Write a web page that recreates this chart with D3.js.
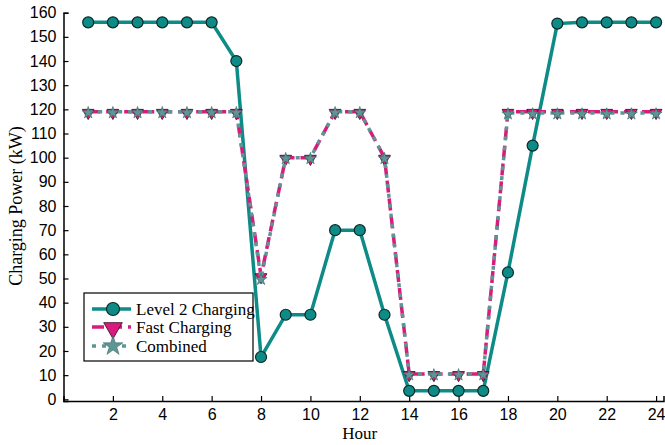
<!DOCTYPE html>
<html><head><meta charset="utf-8">
<script src="https://cdnjs.cloudflare.com/ajax/libs/d3/7.8.5/d3.min.js"></script>
<style>body{margin:0;background:#fff}svg{display:block}</style>
</head><body>
<script>
const hours = [1,2,3,4,5,6,7,8,9,10,11,12,13,14,15,16,17,18,19,20,21,22,23,24];
const level2 = [156,156,156,156,156,156,140,17.5,35,35,70,70,35,3.5,3.5,3.5,3.5,52.5,105,155.5,156,156,156,156];
const fast = [119,119,119,119,119,119,119,51,100,100,119,119,100,10.5,10.5,10.5,10.5,119,119,119,119,119,119,119];
const combined = [119,119,119,119,119,119,119,50,100,100,119,119,100,10.5,10.5,10.5,10.5,118.5,118.5,118.5,118.5,118.5,118.5,118.5];
const xTicks = [2,4,6,8,10,12,14,16,18,20,22,24];
const yTicks = [0,10,20,30,40,50,60,70,80,90,100,110,120,130,140,150,160];
const seriesNames = ["Level 2 Charging","Fast Charging","Combined"];

const W=665,H=445;
const svg=d3.select("body").append("svg").attr("width",W).attr("height",H);
const x=d3.scaleLinear().domain([0,24.3]).range([63.5,663.5]);
const y=d3.scaleLinear().domain([-0.7,160]).range([401,12.7]);

const teal="#0f8b87", mag="#d81b7c", grey="#5e9696";
const serif="'Liberation Serif', 'Times New Roman', serif";

// axes
const gx=svg.append("g").attr("transform",`translate(0,${y(-0.7)})`)
  .call(d3.axisBottom(x).tickValues(xTicks).tickSize(-5).tickPadding(8).tickFormat(d3.format("d")));
const gy=svg.append("g").attr("transform",`translate(${x(0)},0)`)
  .call(d3.axisLeft(y).tickValues(yTicks).tickSize(-5).tickPadding(7).tickFormat(d3.format("d")));
[gx,gy].forEach(g=>{
  g.select(".domain").attr("stroke","#000").attr("stroke-width",1.5);
  g.selectAll(".tick line").attr("stroke","#000").attr("stroke-width",1.2);
  g.selectAll(".tick text").attr("font-family","'Liberation Sans', Arial, sans-serif").attr("font-size",16).attr("fill","#000");
});

svg.append("text").attr("x",x(12)).attr("y",439).attr("text-anchor","middle")
  .attr("font-family",serif).attr("font-size",17).text("Hour");
svg.append("text").attr("transform",`translate(22,${y(80)}) rotate(-90)`).attr("text-anchor","middle")
  .attr("font-family",serif).attr("font-size",18).text("Charging Power (kW)");

const line=d3.line().x((d,i)=>x(hours[i])).y(d=>y(d));

// Level 2
svg.append("path").datum(level2).attr("d",line).attr("fill","none").attr("stroke",teal).attr("stroke-width",3.5);
svg.append("g").selectAll("circle").data(level2).join("circle")
  .attr("cx",(d,i)=>x(hours[i])).attr("cy",d=>y(d)).attr("r",5.5)
  .attr("fill",teal).attr("stroke","#0a2a28").attr("stroke-width",1.2);

// Fast
svg.append("path").datum(fast).attr("d",line).attr("fill","none").attr("stroke",mag).attr("stroke-width",3.5)
  .attr("stroke-dasharray","12,6");
const tri=d3.symbol().type(d3.symbolTriangle).size(60);
svg.append("g").selectAll("path").data(fast).join("path")
  .attr("d",tri).attr("transform",(d,i)=>`translate(${x(hours[i])},${y(d)+1}) rotate(180)`)
  .attr("fill",mag).attr("stroke","#3a0a20").attr("stroke-width",0.8);

// Combined
svg.append("path").datum(combined).attr("d",line).attr("fill","none").attr("stroke",grey).attr("stroke-width",3.5)
  .attr("stroke-dasharray","4,6");
const star=d3.symbol().type(d3.symbolStar).size(45);
svg.append("g").selectAll("path").data(combined).join("path")
  .attr("d",star).attr("transform",(d,i)=>`translate(${x(hours[i])},${y(d)+1})`)
  .attr("fill",grey).attr("stroke","#3d6a6a").attr("stroke-width",0.6);

// legend
const lg=svg.append("g");
lg.append("rect").attr("x",84).attr("y",293).attr("width",169).attr("height",68)
  .attr("fill","#fff").attr("stroke","#000").attr("stroke-width",1.2);
const rows=[309,327,346];
lg.append("line").attr("x1",92).attr("x2",131).attr("y1",rows[0]).attr("y2",rows[0]).attr("stroke",teal).attr("stroke-width",3.5);
lg.append("circle").attr("cx",113).attr("cy",rows[0]).attr("r",6.5).attr("fill",teal).attr("stroke","#0a2a28").attr("stroke-width",1.2);
lg.append("line").attr("x1",92).attr("x2",131).attr("y1",rows[1]).attr("y2",rows[1]).attr("stroke",mag).attr("stroke-width",3.5).attr("stroke-dasharray","12,6");
lg.append("path").attr("d",d3.symbol().type(d3.symbolTriangle).size(150)).attr("transform",`translate(113,${rows[1]+1}) rotate(180)`).attr("fill",mag).attr("stroke","#3a0a20").attr("stroke-width",0.8);
lg.append("line").attr("x1",92).attr("x2",131).attr("y1",rows[2]).attr("y2",rows[2]).attr("stroke",grey).attr("stroke-width",3.5).attr("stroke-dasharray","4,6");
lg.append("path").attr("d",d3.symbol().type(d3.symbolStar).size(120)).attr("transform",`translate(113,${rows[2]})`).attr("fill",grey).attr("stroke","#3d6a6a").attr("stroke-width",0.6);
seriesNames.forEach((n,i)=>{
  lg.append("text").attr("x",136).attr("y",rows[i]+6).attr("font-family",serif).attr("font-size",17).text(n);
});
</script>
</body></html>
